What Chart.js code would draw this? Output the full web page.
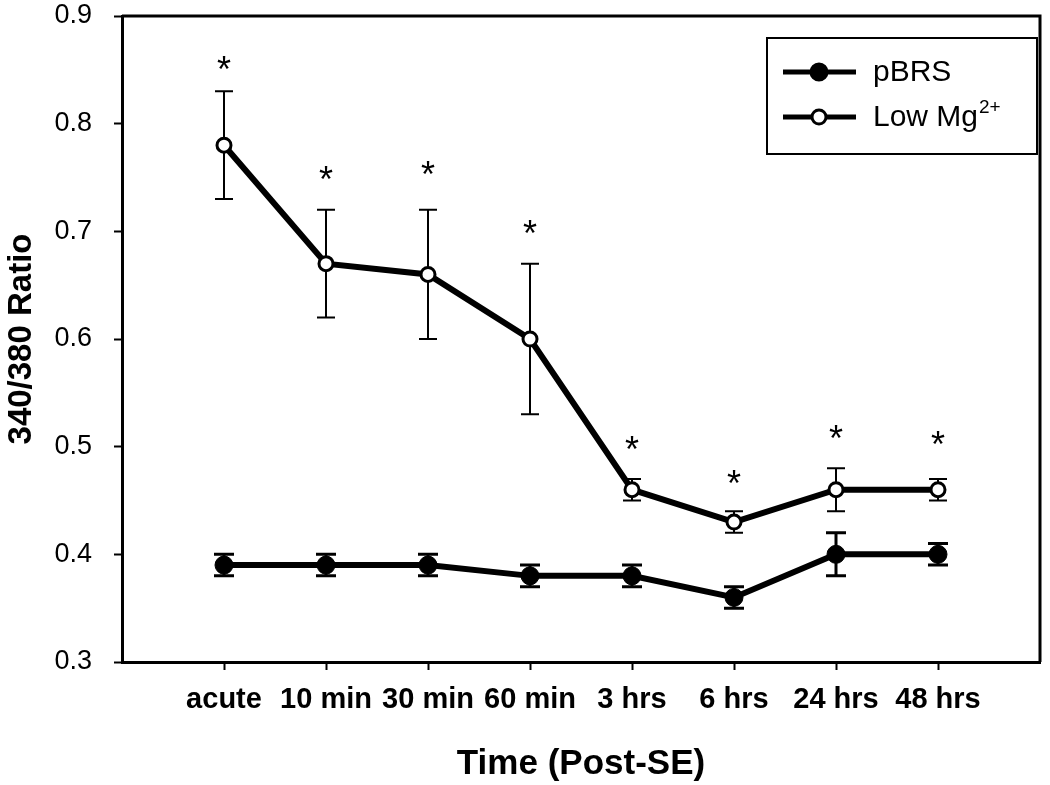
<!DOCTYPE html>
<html>
<head>
<meta charset="utf-8">
<script src="https://cdn.jsdelivr.net/npm/chart.js@4.4.1/dist/chart.umd.min.js"></script>
<style>
  html, body { margin: 0; padding: 0; background: #fff; }
  #wrap { width: 1050px; height: 785px; }
</style>
</head>
<body>
<div id="wrap"><canvas id="chart" width="1050" height="785"></canvas></div>
<script>
const timeLabels = ["acute", "10 min", "30 min", "60 min", "3 hrs", "6 hrs", "24 hrs", "48 hrs"];
const pbrsMean = [0.39, 0.39, 0.39, 0.38, 0.38, 0.36, 0.40, 0.40];
const pbrsErr = [0.01, 0.01, 0.01, 0.01, 0.01, 0.01, 0.02, 0.01];
const lowMgMean = [0.78, 0.67, 0.66, 0.60, 0.46, 0.43, 0.46, 0.46];
const lowMgErr = [0.05, 0.05, 0.06, 0.07, 0.01, 0.01, 0.02, 0.01];
// height of the significance asterisks (in y units)
const starLevel = [0.857, 0.755, 0.76, 0.705, 0.504, 0.473, 0.515, 0.509];
const yTicks = [0.3, 0.4, 0.5, 0.6, 0.7, 0.8, 0.9];

const FONT = "'Liberation Sans', Arial, sans-serif";

const toPoints = (arr) => arr.map((v, i) => ({ x: i, y: v }));

// error bars, asterisks, frame and legend box
const extras = {
  id: "extras",
  beforeDatasetsDraw(chart) {
    const ctx = chart.ctx;
    const xs = chart.scales.x, ys = chart.scales.y;
    const drawBars = (mean, err, lw, cap) => {
      ctx.save();
      ctx.strokeStyle = "#000";
      ctx.lineWidth = lw;
      mean.forEach((m, i) => {
        const x = xs.getPixelForValue(i);
        const top = ys.getPixelForValue(m + err[i]);
        const bot = ys.getPixelForValue(m - err[i]);
        ctx.beginPath();
        ctx.moveTo(x, top); ctx.lineTo(x, bot);
        ctx.moveTo(x - cap, top); ctx.lineTo(x + cap, top);
        ctx.moveTo(x - cap, bot); ctx.lineTo(x + cap, bot);
        ctx.stroke();
      });
      ctx.restore();
    };
    drawBars(lowMgMean, lowMgErr, 2, 9);
    drawBars(pbrsMean, pbrsErr, 3, 10);
  },
  afterDraw(chart) {
    const ctx = chart.ctx;
    const a = chart.chartArea;
    const xs = chart.scales.x, ys = chart.scales.y;
    ctx.save();
    // top and right frame lines
    ctx.strokeStyle = "#000";
    ctx.lineWidth = 3;
    ctx.beginPath();
    ctx.moveTo(a.left, a.top);
    ctx.lineTo(a.right, a.top);
    ctx.lineTo(a.right, a.bottom);
    ctx.stroke();

    // asterisks
    ctx.fillStyle = "#000";
    ctx.font = "36px " + FONT;
    ctx.textAlign = "center";
    ctx.textBaseline = "alphabetic";
    starLevel.forEach((v, i) => {
      ctx.fillText("*", xs.getPixelForValue(i), ys.getPixelForValue(v) + 20);
    });

    // legend
    const bx = 767, by = 38, bw = 270, bh = 116;
    ctx.lineWidth = 2;
    ctx.strokeRect(bx, by, bw, bh);
    const rows = [
      { y: 72, fill: "#000", text: "pBRS", r: 8 },
      { y: 117, fill: "#fff", text: "Low Mg", r: 7, sup: "2+" },
    ];
    rows.forEach((row) => {
      ctx.lineWidth = 5;
      ctx.beginPath();
      ctx.moveTo(783, row.y); ctx.lineTo(856, row.y);
      ctx.stroke();
      ctx.beginPath();
      ctx.arc(819, row.y, row.r, 0, Math.PI * 2);
      ctx.fillStyle = row.fill;
      ctx.fill();
      ctx.lineWidth = 3;
      ctx.stroke();
      ctx.fillStyle = "#000";
      ctx.font = "30px " + FONT;
      ctx.textAlign = "left";
      ctx.textBaseline = "middle";
      ctx.fillText(row.text, 873, row.y + 1);
      if (row.sup) {
        const w = ctx.measureText(row.text).width;
        ctx.font = "19px " + FONT;
        ctx.fillText(row.sup, 873 + w + 1, row.y - 9);
      }
    });
    ctx.restore();
  },
};

new Chart(document.getElementById("chart"), {
  type: "line",
  data: {
    datasets: [
      {
        label: "pBRS",
        data: toPoints(pbrsMean),
        borderColor: "#000",
        borderWidth: 6,
        backgroundColor: "#000",
        pointRadius: 9,
        pointBorderWidth: 1,
        pointBackgroundColor: "#000",
        pointBorderColor: "#000",
        tension: 0,
      },
      {
        label: "Low Mg2+",
        data: toPoints(lowMgMean),
        borderColor: "#000",
        borderWidth: 6,
        pointRadius: 7,
        pointBorderWidth: 3,
        pointBackgroundColor: "#fff",
        pointBorderColor: "#000",
        tension: 0,
      },
    ],
  },
  options: {
    responsive: false,
    animation: false,
    layout: { padding: { top: 16, right: 7, left: 0, bottom: 0 } },
    plugins: {
      legend: { display: false },
      tooltip: { enabled: false },
    },
    scales: {
      x: {
        type: "linear",
        min: -1,
        max: 8,
        afterFit: (axis) => {
          axis.height = 123;
          axis.paddingLeft = 0;
          axis.paddingRight = 0;
        },
        afterBuildTicks: (axis) => {
          axis.ticks = timeLabels.map((_, i) => ({ value: i }));
        },
        ticks: {
          autoSkip: false,
          maxRotation: 0,
          minRotation: 0,
          padding: 13,
          color: "#000",
          font: { family: FONT, size: 29, weight: "bold" },
          callback: (v) => timeLabels[v] ?? "",
        },
        grid: {
          drawOnChartArea: false,
          drawTicks: true,
          tickLength: 8,
          tickWidth: 2,
          color: "#000",
        },
        border: { display: true, color: "#000", width: 3 },
        title: {
          display: true,
          text: "Time (Post-SE)",
          color: "#000",
          font: { family: FONT, size: 35, weight: "bold" },
          padding: { top: 0, bottom: 0 },
        },
      },
      y: {
        min: 0.3,
        max: 0.9,
        afterFit: (axis) => {
          axis.width = 122;
          axis.paddingTop = 0;
          axis.paddingBottom = 0;
        },
        afterBuildTicks: (axis) => {
          axis.ticks = yTicks.map((v) => ({ value: v }));
        },
        ticks: {
          padding: 22,
          color: "#000",
          font: { family: FONT, size: 27 },
          callback: (v) => v.toFixed(1),
        },
        grid: {
          drawOnChartArea: false,
          drawTicks: true,
          tickLength: 8,
          tickWidth: 2,
          color: "#000",
        },
        border: { display: true, color: "#000", width: 3 },
        title: {
          display: true,
          text: "340/380 Ratio",
          color: "#000",
          font: { family: FONT, size: 33, weight: "bold" },
          padding: { top: 2, bottom: 0 },
        },
      },
    },
  },
  plugins: [extras],
});
</script>
</body>
</html>
